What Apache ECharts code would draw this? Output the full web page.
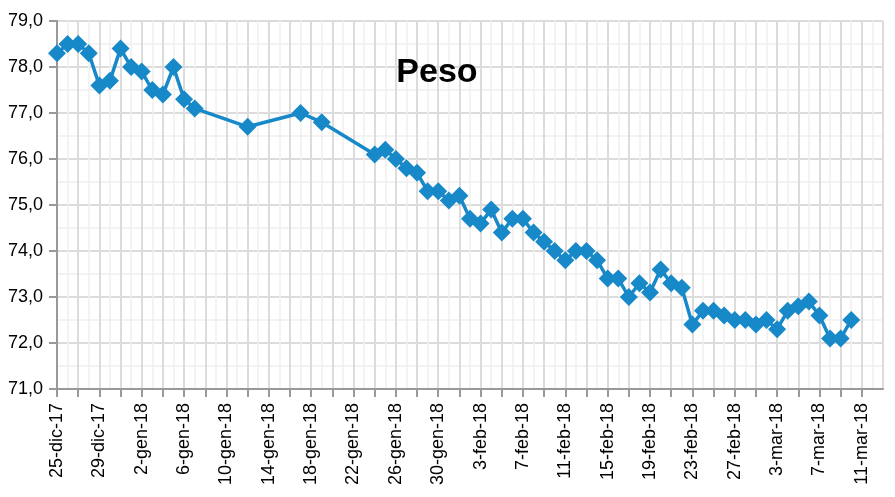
<!DOCTYPE html>
<html>
<head>
<meta charset="utf-8">
<script src="https://cdn.jsdelivr.net/npm/echarts@6/dist/echarts.min.js"></script>
<style>
html,body{margin:0;padding:0;background:#fff;}
#c{width:895px;height:497px;}
</style>
</head>
<body>
<div id="c"></div>
<script>
const startDate = '2017-12-25';
const endDate = '2018-03-13';
const dates = [
 '2017-12-25','2017-12-26','2017-12-27','2017-12-28','2017-12-29','2017-12-30','2017-12-31',
 '2018-01-01','2018-01-02','2018-01-03','2018-01-04','2018-01-05','2018-01-06','2018-01-07',
 '2018-01-12','2018-01-17','2018-01-19',
 '2018-01-24','2018-01-25','2018-01-26','2018-01-27','2018-01-28','2018-01-29','2018-01-30','2018-01-31',
 '2018-02-01','2018-02-02','2018-02-03','2018-02-04','2018-02-05','2018-02-06','2018-02-07','2018-02-08',
 '2018-02-09','2018-02-10','2018-02-11','2018-02-12','2018-02-13','2018-02-14','2018-02-15','2018-02-16',
 '2018-02-17','2018-02-18','2018-02-19','2018-02-20','2018-02-21','2018-02-22','2018-02-23','2018-02-24',
 '2018-02-25','2018-02-26','2018-02-27','2018-02-28','2018-03-01','2018-03-02','2018-03-03','2018-03-04',
 '2018-03-05','2018-03-06','2018-03-07','2018-03-08','2018-03-09','2018-03-10'
];
const peso = [
 78.3,78.5,78.5,78.3,77.6,77.7,78.4,
 78.0,77.9,77.5,77.4,78.0,77.3,77.1,
 76.7,77.0,76.8,
 76.1,76.2,76.0,75.8,75.7,75.3,75.3,75.1,
 75.2,74.7,74.6,74.9,74.4,74.7,74.7,74.4,
 74.2,74.0,73.8,74.0,74.0,73.8,73.4,73.4,
 73.0,73.3,73.1,73.6,73.3,73.2,72.4,72.7,
 72.7,72.6,72.5,72.5,72.4,72.5,72.3,72.7,
 72.8,72.9,72.6,72.1,72.1,72.5
];
const monthNames = ['gen','feb','mar','apr','mag','giu','lug','ago','set','ott','nov','dic'];
const yMin = 71, yMax = 79;

const DAY = 86400000;
function toUTC(s){const p=s.split('-').map(Number);return Date.UTC(p[0],p[1]-1,p[2]);}
const t0 = toUTC(startDate);
const dayIdx = s => Math.round((toUTC(s)-t0)/DAY);
const seriesData = dates.map((d,i)=>[dayIdx(d), peso[i]]);

const chart = echarts.init(document.getElementById('c'));
const FONT = '"Liberation Sans", Arial, Helvetica, sans-serif';
chart.setOption({
  animation:false,
  backgroundColor:'#fff',
  title:{text:'Peso',left:432,top:51,textAlign:'center',
    textStyle:{fontFamily:FONT,fontSize:34,fontWeight:'bold',color:'#000'}},
  grid:{left:57,right:12,top:21,bottom:108,containLabel:false},
  xAxis:{
    type:'value',min:0,max:dayIdx(endDate),interval:2,
    axisLine:{show:true,lineStyle:{color:'#999',width:2}},
    axisTick:{show:true,length:8,lineStyle:{color:'#999',width:2}},
    minorTick:{show:false,splitNumber:2},
    splitLine:{show:true,lineStyle:{color:'#dcdcdc',width:2}},
    minorSplitLine:{show:true,lineStyle:{color:'#efefef',width:1.5}},
    axisLabel:{rotate:90,margin:14,fontFamily:FONT,fontSize:18,color:'#000',
      showMaxLabel:false,
      formatter:v=>{
        if(v%4!==0) return '';
        const d=new Date(t0+v*DAY);
        return d.getUTCDate()+'-'+monthNames[d.getUTCMonth()]+'-'+String(d.getUTCFullYear()).slice(2);
      }}
  },
  yAxis:{
    type:'value',min:yMin,max:yMax,interval:1,
    axisLine:{show:true,lineStyle:{color:'#999',width:2}},
    axisTick:{show:true,length:8,lineStyle:{color:'#999',width:2}},
    splitLine:{show:true,lineStyle:{color:'#dcdcdc',width:2}},
    minorTick:{show:false,splitNumber:2},
    minorSplitLine:{show:true,lineStyle:{color:'#efefef',width:1.5}},
    axisLabel:{margin:14,fontFamily:FONT,fontSize:18,color:'#000',
      formatter:v=>v.toFixed(1).replace('.',',')}
  },
  series:[{
    type:'line',data:seriesData,
    symbol:'diamond',symbolSize:18,
    lineStyle:{color:'#1789c9',width:3.5},
    itemStyle:{color:'#1789c9'}
  }]
});
</script>
</body>
</html>
